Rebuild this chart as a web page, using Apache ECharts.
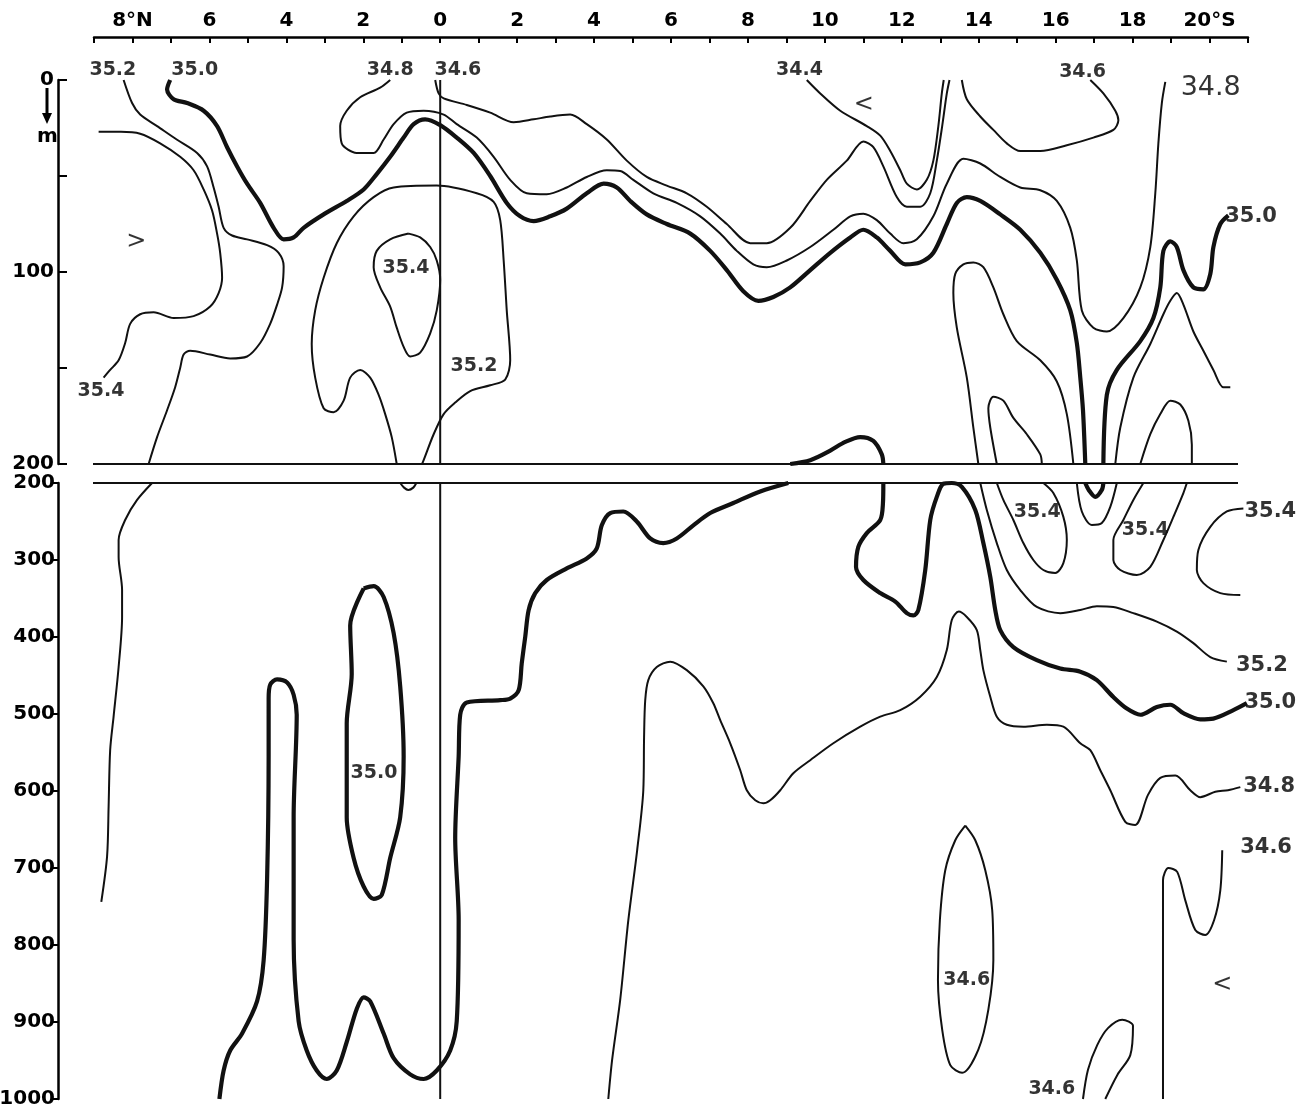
<!DOCTYPE html>
<html><head><meta charset="utf-8">
<script src="https://cdn.jsdelivr.net/npm/echarts/dist/echarts.min.js"></script>
<style>html,body{margin:0;padding:0;background:#fff}#c{width:1310px;height:1117px}</style>
</head><body><div id="c"></div>
<script>
// ---- axes ----
const latMin = -9, latMax = 21;          // 9°N .. 21°S (south positive)
const upperDepth = [0, 200];
const lowerDepth = [200, 1000];
const equatorLat = 0;
const breakLat = [-9.36, 20.74];

// ---- contours: [latitude (S positive), depth m] ----
// upper panel (0-200 m)
const c352LeftUpper = [[-8.23,0],[-8.01,12],[-7.80,18],[-7.36,24],[-6.85,31],[-6.32,38],[-6.06,45],[-5.89,56],[-5.76,66],[-5.63,77],[-5.41,81],[-5.02,83],[-4.50,86],[-4.20,90],[-4.07,97],[-4.11,108],[-4.24,117],[-4.42,127],[-4.68,137],[-5.02,144],[-5.46,145],[-5.98,143],[-6.50,141],[-6.67,143],[-6.76,150],[-6.89,160],[-7.10,172],[-7.36,186],[-7.58,200]];
const c354Left = [[-8.88,27],[-8.3,27],[-7.80,28],[-7.28,33],[-6.76,40],[-6.41,47],[-6.15,57],[-5.93,68],[-5.80,80],[-5.72,90],[-5.67,103],[-5.76,111],[-5.98,118],[-6.41,123],[-6.93,124],[-7.45,121],[-7.80,122],[-8.06,127],[-8.19,137],[-8.36,146],[-8.58,151],[-8.75,155]];
const c350UpperA = [[-7.02,0],[-7.10,5],[-6.93,10],[-6.58,12],[-6.15,16],[-5.80,24],[-5.54,35],[-5.28,45],[-5.02,54],[-4.68,64],[-4.33,77],[-4.07,83],[-3.81,82],[-3.55,77],[-3.03,70],[-2.43,63],[-1.99,57],[-1.65,49],[-1.30,40],[-0.95,30],[-0.69,23],[-0.39,20.5],[0,23.5],[0.43,30],[0.87,38],[1.30,50],[1.73,64],[2.08,71],[2.43,73.5],[2.86,71],[3.29,67],[3.81,59],[4.25,54],[4.59,56],[4.94,63],[5.37,70],[5.89,75],[6.50,80],[7.02,89],[7.45,99],[7.88,110],[8.27,115],[8.66,113],[9.10,108],[9.62,99],[10.14,90],[10.66,82],[11.00,78],[11.35,82],[11.70,89],[12.09,96],[12.48,95],[12.82,90],[13.17,75],[13.43,64],[13.69,61],[14.04,63],[14.56,70],[15.08,78],[15.60,90],[16.03,104],[16.38,120],[16.55,137],[16.64,155],[16.71,172],[16.77,200]];
const c350UpperB = [[17.24,200],[17.33,164],[17.59,151],[18.20,136],[18.54,124],[18.72,108],[18.80,89],[18.98,84],[19.15,87],[19.32,99],[19.58,108],[19.84,109],[20.02,101],[20.10,87],[20.28,75],[20.49,70.5]];
const c350UpperBump = [[9.10,200],[9.62,198],[10.14,193],[10.53,188.5],[10.92,186],[11.26,188],[11.48,195],[11.52,200]];
const c348Upper = [[-1.30,0],[-1.56,4],[-2.08,9],[-2.43,16],[-2.60,24],[-2.56,33],[-2.17,38],[-1.73,38],[-1.47,31],[-1.21,23],[-0.87,17],[-0.43,16],[0.09,18],[0.43,23],[0.95,30],[1.39,40],[1.82,52],[2.25,59],[2.77,59.5],[3.29,56],[3.81,50.5],[4.33,47],[4.68,47.4],[5.02,52],[5.54,59],[6.15,64],[6.76,71],[7.28,80],[7.71,89],[8.14,96],[8.49,97.5],[9.01,94],[9.62,87],[10.22,78],[10.66,71],[11.00,69.6],[11.35,73],[11.70,80],[12.04,85],[12.39,83],[12.82,71],[13.17,54],[13.60,41],[14.04,43.5],[14.56,50.5],[15.08,56],[15.60,57.4],[16.03,63],[16.38,77],[16.55,94],[16.68,120],[16.98,129],[17.33,131],[17.76,124],[18.20,108],[18.46,87],[18.59,59],[18.67,33],[18.76,12],[18.85,1]];
const c346Center = [[-0.13,0],[-0.04,7],[0.09,9.6],[0.69,13],[1.30,17],[1.91,22],[2.43,20.5],[2.86,19],[3.38,18],[3.81,23],[4.33,31],[4.85,42],[5.37,50.5],[5.89,55],[6.41,59],[6.93,66],[7.45,75],[8.06,85],[8.49,85],[9.10,77],[9.62,63],[10.05,52],[10.57,42],[11.00,32],[11.26,35],[11.52,45],[11.87,61],[12.13,66],[12.48,66],[12.74,59],[12.91,42],[13.05,24],[13.17,7],[13.24,0]];
const c344 = [[9.53,0],[9.88,7],[10.40,16],[11.09,24],[11.44,29],[11.70,37],[11.96,47],[12.13,54],[12.39,57],[12.65,52],[12.82,42],[12.95,24],[13.04,7],[13.09,0]];
const c346RightLoop = [[16.90,0],[17.24,7],[17.55,16],[17.63,21],[17.50,26],[16.98,30],[16.29,34],[15.60,37],[15.08,37],[14.73,33],[14.38,26],[14.04,19],[13.69,10],[13.56,0]];
const c352Dome = [[-1.13,200],[-1.26,186],[-1.43,174],[-1.60,164],[-1.82,155],[-2.08,151],[-2.34,155],[-2.51,167],[-2.77,173],[-3.03,171],[-3.25,155],[-3.34,137.5],[-3.25,120],[-3.03,103],[-2.69,85],[-2.25,71],[-1.73,61],[-1.21,56],[-0.09,55],[0.95,59],[1.39,63.5],[1.56,73],[1.65,94],[1.73,120],[1.82,146],[1.69,156],[1.30,159],[0.78,162],[0.39,168],[0.09,174],[-0.17,184.5],[-0.43,198],[-0.47,200]];
const c354Center = [[-0.82,80],[-1.30,83],[-1.65,89],[-1.73,97.5],[-1.56,108],[-1.30,118],[-1.13,129],[-0.95,139],[-0.78,144],[-0.52,142],[-0.26,132],[-0.09,120],[0,104],[-0.09,94],[-0.26,87],[-0.52,82],[-0.82,80]];
const c352RightLoop = [[13.99,200],[13.86,181],[13.69,155],[13.43,129],[13.34,111],[13.39,101],[13.60,96],[13.86,95],[14.12,97.5],[14.38,108],[14.64,122],[14.99,136],[15.60,146],[16.03,157],[16.29,174],[16.46,200]];
const c352FarRight = [[17.55,200],[17.68,181],[18.02,155],[18.46,137.5],[18.80,122],[18.98,115],[19.15,111],[19.32,117],[19.58,131],[19.84,141],[20.10,151],[20.36,160],[20.54,160]];
const c354Loop1Upper = [[14.47,200],[14.30,181],[14.25,171],[14.38,165],[14.64,167],[14.90,176],[15.25,184.5],[15.60,195],[15.64,200]];
const c354Loop2Upper = [[18.20,200],[18.46,184.5],[18.72,174],[18.98,167],[19.24,169],[19.45,177.5],[19.54,190],[19.54,200]];

// lower panel (200-1000 m)
const c352LeftLower = [[-7.49,200],[-7.88,222],[-8.19,248],[-8.36,274],[-8.36,296],[-8.27,339],[-8.27,374],[-8.36,439],[-8.49,503],[-8.58,547],[-8.62,620],[-8.66,685],[-8.81,744]];
const c352DomeLower = [[-1.04,200],[-0.94,206],[-0.83,209],[-0.70,206],[-0.62,200]];
const c350LowerLeft = [[9.05,200],[8.32,211],[7.62,226],[7.02,239],[6.58,255],[6.15,272],[5.80,278],[5.46,272],[5.11,250],[4.76,237],[4.42,239],[4.20,255],[4.07,285],[3.81,298],[3.29,311],[2.77,326],[2.47,343],[2.30,365],[2.21,400],[2.12,434],[2.04,469],[1.82,480],[1.56,482],[0.69,485],[0.52,501],[0.48,555],[0.39,661],[0.48,767],[0.43,899],[0.26,937],[-0.09,963],[-0.43,974],[-0.78,968],[-1.21,947],[-1.47,915],[-1.82,873],[-1.99,868],[-2.17,883],[-2.43,926],[-2.69,963],[-2.95,974],[-3.21,963],[-3.47,937],[-3.68,899],[-3.81,793],[-3.81,634],[-3.73,501],[-3.81,475],[-3.98,459],[-4.24,455],[-4.42,462],[-4.46,480],[-4.46,555],[-4.50,714],[-4.59,820],[-4.76,873],[-5.15,915],[-5.46,937],[-5.63,963],[-5.74,1000]];
const c350LowerRight = [[11.52,200],[11.51,226],[11.44,248],[11.09,265],[10.87,283],[10.81,309],[11.00,326],[11.44,343],[11.83,354],[12.13,369],[12.30,372],[12.43,365],[12.61,313],[12.74,248],[12.91,218],[13.08,201],[13.30,200],[13.56,205],[13.91,235],[14.12,278],[14.30,322],[14.43,365],[14.56,391],[14.90,413],[15.51,430],[16.12,441],[16.64,445],[17.07,456],[17.50,478],[17.85,493],[18.20,501],[18.63,491],[18.98,488],[19.32,499],[19.76,507],[20.10,506],[20.62,495],[20.97,486]];
const c350LowerJoin = [[16.77,200],[16.86,209],[17.03,218],[17.20,209],[17.24,200]];
const c350Ellipse = [[-1.99,337],[-2.34,385],[-2.30,448],[-2.43,512],[-2.43,634],[-2.25,687],[-1.99,724],[-1.73,740],[-1.52,735],[-1.30,687],[-1.04,634],[-0.95,555],[-1.04,464],[-1.21,395],[-1.47,348],[-1.73,334],[-1.99,337]];
const c352RightLower = [[14.04,200],[14.21,235],[14.47,278],[14.73,313],[15.08,339],[15.51,361],[16.12,369],[16.64,365],[17.07,360],[17.50,361],[18.02,369],[18.63,380],[19.15,393],[19.58,408],[20.02,426],[20.45,432]];
const c352LowerJoin = [[16.55,200],[16.68,237],[16.94,254.5],[17.20,252],[17.42,231],[17.59,200]];
const c354Loop1Lower = [[14.47,200],[14.64,222],[14.90,248],[15.16,278],[15.42,300],[15.68,313],[15.99,317],[16.20,304],[16.29,274],[16.20,244],[15.94,213],[15.68,200]];
const c354Loop2Lower = [[18.28,200],[18.02,222],[17.76,248],[17.50,274],[17.50,300],[17.68,313],[18.11,319.5],[18.46,309],[18.80,274],[19.06,244],[19.32,213],[19.41,200]];
const c354Right = [[20.88,233],[20.45,237],[20.02,257],[19.71,287],[19.67,313],[19.84,330],[20.28,343],[20.80,345.5]];
const c348Lower = [[20.80,595],[20.48,599],[20.15,601],[19.76,608],[19.50,599],[19.11,580],[18.72,583],[18.40,605],[18.07,644],[17.81,640],[17.42,599],[17.16,573],[16.90,547],[16.64,538],[16.20,516.5],[15.77,514],[15.16,516.5],[14.73,514],[14.47,503.5],[14.30,477.5],[14.12,443],[14.04,417],[13.95,391],[13.69,374],[13.48,367],[13.30,378],[13.17,417],[12.91,452],[12.48,477.5],[11.96,495],[11.44,503.5],[10.92,516.5],[10.22,538],[9.62,560],[9.18,577],[8.84,599],[8.58,612],[8.40,616],[8.19,612],[7.97,599],[7.80,573],[7.54,538],[7.28,508],[7.10,486],[6.84,464],[6.41,443],[5.98,432],[5.63,439],[5.41,456],[5.33,482],[5.30,530],[5.28,599],[5.12,677],[4.89,768],[4.68,871],[4.47,949],[4.37,1000]];
const c346Ellipse = [[13.65,645],[13.91,664],[14.17,703],[14.35,754.5],[14.38,819.5],[14.25,884],[13.99,936],[13.57,966],[13.26,956],[13.05,910],[12.94,845.5],[12.99,767.5],[13.13,703],[13.39,664],[13.65,645]];
const c346Bottom = [[16.71,1000],[16.84,962],[17.08,930],[17.36,908],[17.73,897],[18.01,905],[17.94,943],[17.60,969],[17.29,1000]];
const c346Right = [[20.33,677],[20.28,729],[20.12,767.5],[19.89,787],[19.63,780.5],[19.37,742],[19.16,705],[18.93,700],[18.79,716],[18.79,871],[18.79,1000]];

// ---- labels: [lat, depth, text] ----
const upperLabels = [[-8.51,-5,'35.2'],[-6.38,-5,'35.0'],[-1.30,-5,'34.8'],[0.46,-5,'34.6'],[9.34,-5,'34.4'],[16.70,-4,'34.6'],[-0.89,98,'35.4'],[0.88,149,'35.2'],[-8.82,162,'35.4']];
const upperSideLabels = [[21.08,71,'35.0']];
const upperBigLabels = [[20.03,4,'34.8']];
const lowerLabels = [[15.52,238,'35.4'],[18.33,261,'35.4'],[-1.72,577,'35.0'],[13.69,845,'34.6'],[15.90,987,'34.6']];
const lowerSideLabels = [[21.58,237,'35.4'],[21.36,437,'35.2'],[21.58,485,'35.0'],[21.55,594,'34.8'],[21.47,674,'34.6']];
const upperMarks = [[-7.90,84,'>'],[11.01,13,'<']];
const lowerMarks = [[20.33,852,'<']];

// ---- build ----
const FONT = 'DejaVu Sans';
function line(data, gi, width) {
  return {type:'line', xAxisIndex:gi, yAxisIndex:gi, data, symbol:'none', showSymbol:false,
    smooth:0.3, clip:false, silent:true, animation:false,
    lineStyle:{color:'#111', width}};
}
function labels(data, gi, size, weight) {
  return {type:'scatter', xAxisIndex:gi, yAxisIndex:gi, data, symbolSize:1, clip:false, silent:true,
    animation:false, itemStyle:{color:'rgba(0,0,0,0)'},
    label:{show:true, position:'inside', formatter:p=>p.value[2], color:'#000', textBorderWidth:0,
      fontSize:size, fontWeight:weight, fontFamily:FONT}};
}
const THIN = 2, THICK = 4.2;
const series = [
  line([[equatorLat,upperDepth[0]],[equatorLat,upperDepth[1]]],0,2),
  line([[equatorLat,lowerDepth[0]],[equatorLat,lowerDepth[1]]],1,2),
  line([[breakLat[0],upperDepth[1]],[breakLat[1],upperDepth[1]]],0,2),
  line([[breakLat[0],lowerDepth[0]],[breakLat[1],lowerDepth[0]]],1,2),
  line(c352LeftUpper,0,THIN), line(c354Left,0,THIN), line(c350UpperA,0,THICK), line(c350UpperB,0,THICK),
  line(c350UpperBump,0,THICK), line(c348Upper,0,THIN), line(c346Center,0,THIN), line(c344,0,THIN),
  line(c346RightLoop,0,THIN), line(c352Dome,0,THIN), line(c354Center,0,THIN), line(c352RightLoop,0,THIN),
  line(c352FarRight,0,THIN), line(c354Loop1Upper,0,THIN), line(c354Loop2Upper,0,THIN),
  line(c352LeftLower,1,THIN), line(c352DomeLower,1,THIN), line(c350LowerLeft,1,THICK), line(c350LowerRight,1,THICK),
  line(c350LowerJoin,1,THICK), line(c350Ellipse,1,THICK), line(c352RightLower,1,THIN), line(c352LowerJoin,1,THIN),
  line(c354Loop1Lower,1,THIN), line(c354Loop2Lower,1,THIN), line(c354Right,1,THIN), line(c348Lower,1,THIN),
  line(c346Ellipse,1,THIN), line(c346Bottom,1,THIN), line(c346Right,1,THIN),
  labels(upperLabels,0,19,'bold'), labels(upperSideLabels,0,21,'bold'), labels(upperBigLabels,0,27,'normal'),
  labels(lowerLabels,1,19,'bold'), labels(lowerSideLabels,1,21,'bold'),
  labels(upperMarks,0,24,'normal'), labels(lowerMarks,1,24,'normal')
];

function latLabel(v){
  if (Math.abs(v) % 2) return '';
  if (v === -8) return '8°N';
  if (v === 20) return '20°S';
  return String(Math.abs(v));
}
const axisFont = {color:'#000', fontSize:20, fontWeight:'bold', fontFamily:FONT};

const chart = echarts.init(document.getElementById('c'), null, {renderer:'canvas'});
chart.setOption({
  animation:false,
  backgroundColor:'#fff',
  grid:[
    {left:94, top:80, width:1154, height:384, containLabel:false, outerBoundsMode:'none'},
    {left:94, top:483, width:1154, height:616, containLabel:false, outerBoundsMode:'none'}
  ],
  xAxis:[
    {gridIndex:0, type:'value', position:'top', min:latMin, max:latMax, interval:1, offset:43,
     axisLine:{show:true, onZero:false, lineStyle:{color:'#000', width:2.5}},
     axisTick:{show:true, inside:true, length:6, lineStyle:{color:'#000', width:2}},
     axisLabel:{interval:0, formatter:latLabel, margin:6, fontSize:20, color:'#000', fontWeight:'bold', fontFamily:FONT},
     splitLine:{show:false}},
    {gridIndex:1, type:'value', min:latMin, max:latMax, show:false, axisLine:{onZero:false}, splitLine:{show:false}}
  ],
  yAxis:[
    {gridIndex:0, type:'value', inverse:true, min:upperDepth[0], max:upperDepth[1], interval:50, offset:36,
     axisLine:{show:true, onZero:false, lineStyle:{color:'#000', width:2.5}},
     axisTick:{show:true, inside:true, length:9, lineStyle:{color:'#000', width:2}},
     axisLabel:Object.assign({formatter:v=>v%100===0?String(v):'', margin:4}, axisFont),
     splitLine:{show:false}},
    {gridIndex:1, type:'value', inverse:true, min:lowerDepth[0], max:lowerDepth[1], interval:100, offset:36,
     axisLine:{show:true, onZero:false, lineStyle:{color:'#000', width:2.5}},
     axisTick:{show:true, inside:false, length:5, lineStyle:{color:'#000', width:2}},
     axisLabel:Object.assign({formatter:v=>String(v), margin:3}, axisFont),
     splitLine:{show:false}}
  ],
  graphic:[
    {type:'line', shape:{x1:47, y1:88, x2:47, y2:116}, style:{stroke:'#000', lineWidth:3}},
    {type:'polygon', shape:{points:[[42,113],[52,113],[47,124]]}, style:{fill:'#000'}},
    {type:'text', left:37, top:127, style:{text:'m', font:'bold 20px "DejaVu Sans"', fill:'#000'}}
  ],
  series
});
</script>
</body></html>
